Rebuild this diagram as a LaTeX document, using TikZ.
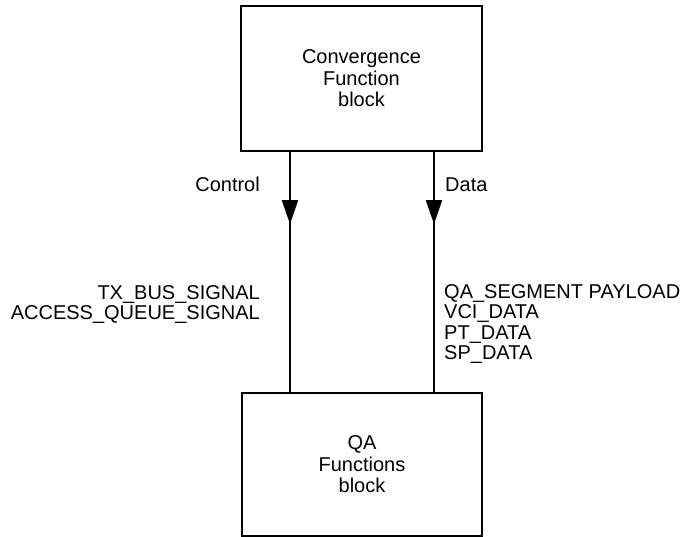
\documentclass[tikz,border=0pt]{standalone}
\usepackage{fontspec}
\setmainfont{Liberation Sans}
\usetikzlibrary{arrows.meta,decorations.markings}
\begin{document}
\begin{tikzpicture}[x=1pt,y=1pt,
  blockbox/.style={draw=black, line width=2.5pt, align=center, inner sep=0pt,
    font=\fontsize{20}{21.5}\selectfont},
  flowline/.style={line width=2.2pt, postaction={decorate},
    decoration={markings, mark=at position 0.3 with {\arrow{Triangle[length=24pt,width=16pt]}}}},
  sig/.style={font=\fontsize{20}{20.5}\selectfont, inner sep=0pt}]
\useasboundingbox (0,0) rectangle (689,537);
\node[blockbox, minimum width=241pt, minimum height=145pt] (conv) at (361.5,458.5) {Convergence\\Function\\block};
\node[blockbox, minimum width=240pt, minimum height=143pt] (qa) at (362,72.5) {QA\\Functions\\block};
\coordinate (ctl) at (290,0);
\coordinate (dat) at (434,0);
\draw[flowline] (conv.south -| ctl) -- (qa.north -| ctl);
\draw[flowline] (conv.south -| dat) -- (qa.north -| dat);
\node[sig, anchor=base east] (ctllabel) at (260,345) {Control};
\node[sig, anchor=base west] (datlabel) at (445,345) {Data};
\node[sig, anchor=north east, align=right] (ctlsig) at (260,252) {TX\_BUS\_SIGNAL\\ACCESS\_QUEUE\_SIGNAL};
\node[sig, anchor=north west, align=left] (datsig) at (444,253) {QA\_SEGMENT PAYLOAD\\VCI\_DATA\\PT\_DATA\\SP\_DATA};
\end{tikzpicture}
\end{document}
